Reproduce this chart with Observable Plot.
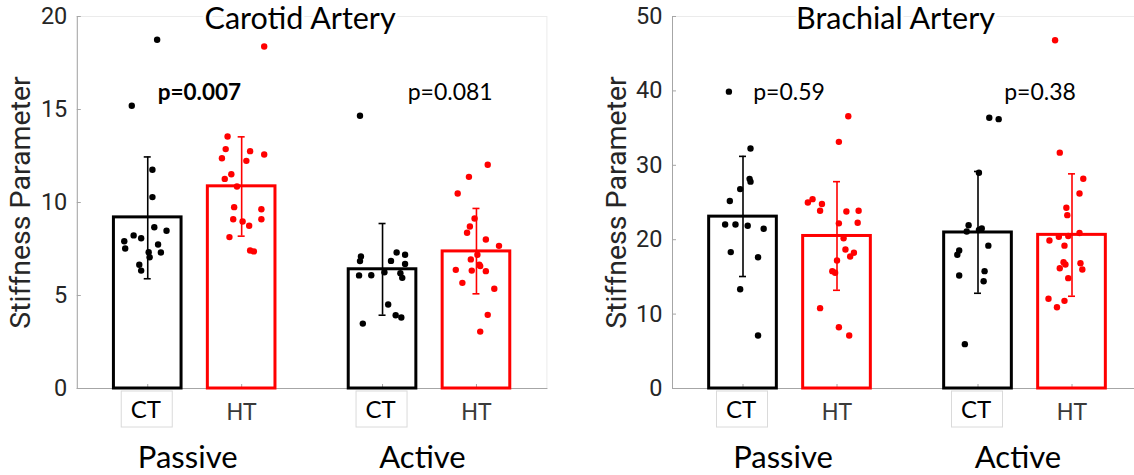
<!DOCTYPE html>
<html><head><meta charset="utf-8">
<script src="https://cdn.jsdelivr.net/npm/d3@7"></script>
<script src="https://cdn.jsdelivr.net/npm/@observablehq/plot@0.6"></script>
<style>
html,body{margin:0;padding:0;background:#fff;overflow:hidden;}
#wrap{position:relative;width:1134px;height:475px;overflow:hidden;background:#fff;}
#left{position:absolute;left:0;top:0;width:567px;height:475px;}
#right{position:absolute;left:567px;top:0;width:575px;height:475px;}
#wrap svg{max-width:none !important;}
</style></head><body><div id="wrap"><div id="left"></div><div id="right"></div></div>
<script>
// ---------- data ----------
const groups = ["Passive", "Active"];
const cohorts = ["CT", "HT"];
const panelTitles = ["Carotid Artery", "Brachial Artery"];
const yLabel = "Stiffness Parameter";
const carotidTicks = [0, 5, 10, 15, 20];
const brachialTicks = [0, 10, 20, 30, 40, 50];

// bar order: Passive CT, Passive HT, Active CT, Active HT
const carotidMean = [9.20, 10.87, 6.41, 7.37];
const carotidLow = [5.90, 8.19, 3.94, 5.09];
const carotidHigh = [12.45, 13.53, 8.87, 9.68];
const brachialMean = [23.1, 20.5, 20.97, 20.65];
const brachialLow = [15.05, 13.2, 12.8, 12.4];
const brachialHigh = [31.2, 27.8, 29.17, 28.85];

const carotidP = ["p=0.007", "p=0.081"];
const carotidPBold = [true, false];
const brachialP = ["p=0.59", "p=0.38"];
const brachialPBold = [false, false];

// subject points: [value, horizontal jitter]
const carotidPassiveCT = [[18.75,0.10],[15.2,-0.17],[11.76,0.05],[10.29,0.05],[8.67,0.07],[8.48,0.20],[8.23,-0.15],[8.08,-0.07],[7.92,-0.25],[7.53,-0.24],[7.74,0.11],[7.33,0.01],[7.06,0.02],[7.31,0.14],[6.65,-0.09],[6.34,-0.07]];
const carotidPassiveHT = [[18.39,0.24],[13.55,-0.15],[12.87,-0.17],[12.76,0.09],[12.58,0.24],[12.38,-0.21],[12.24,0.05],[11.52,-0.11],[11.27,-0.18],[10.86,-0.05],[9.75,-0.08],[9.64,0.21],[9.10,-0.09],[8.98,0.01],[9.10,0.21],[8.75,0.08],[8.14,-0.13],[7.42,0.09],[7.37,0.13]];
const carotidActiveCT = [[14.66,-0.24],[7.10,-0.23],[6.85,-0.24],[7.31,0.15],[7.19,0.24],[6.86,0.09],[6.70,0.24],[6.08,-0.25],[6.09,-0.12],[6.25,0.02],[6.20,0.19],[5.95,0.21],[4.52,0.06],[3.94,0.14],[3.82,0.20],[3.49,-0.21]];
const carotidActiveHT = [[12.03,0.12],[11.38,-0.08],[10.48,-0.20],[9.14,-0.02],[8.71,-0.07],[8.37,-0.10],[8.01,0.10],[7.67,0.24],[7.19,0.01],[6.94,-0.06],[6.65,0.03],[6.58,0.04],[6.38,-0.22],[6.34,-0.05],[6.31,0.10],[5.68,-0.15],[5.36,0.19],[3.96,0.12],[3.06,0.04]];
const brachialPassiveCT = [[39.9,-0.15],[32.26,0.08],[28.18,0.07],[27.8,0.08],[26.8,-0.03],[25.2,-0.14],[22.04,-0.19],[22.04,-0.08],[21.87,0.05],[21.47,0.22],[18.33,-0.13],[17.65,0.16],[13.35,-0.03],[7.12,0.16]];
const brachialPassiveHT = [[36.6,0.12],[33.15,0.02],[25.0,-0.31],[25.45,-0.26],[24.8,-0.16],[23.9,-0.18],[23.8,0.10],[23.9,0.23],[22.2,0.02],[22.27,0.22],[20.2,0.07],[18.68,0.09],[18.24,0.18],[17.74,0.14],[17.2,0.00],[15.77,-0.05],[15.55,-0.02],[10.8,-0.18],[8.24,0.02],[7.12,0.13]];
const brachialActiveCT = [[36.4,0.12],[36.2,0.22],[28.99,0.01],[21.95,-0.10],[21.5,0.04],[21.3,0.01],[21.1,-0.12],[19.2,0.11],[18.55,-0.20],[17.97,-0.22],[15.77,0.07],[15.19,-0.20],[14.42,0.06],[5.96,-0.14]];
const brachialActiveHT = [[46.8,-0.18],[31.7,-0.13],[28.2,0.12],[26.2,0.08],[24.3,-0.06],[23.3,-0.05],[20.9,0.08],[20.5,-0.04],[20.4,-0.14],[19.9,-0.24],[19.2,-0.08],[16.97,-0.09],[16.66,-0.07],[16.17,-0.13],[16.84,0.09],[16.0,0.11],[14.83,-0.04],[12.06,-0.25],[11.78,-0.08],[10.93,-0.16]];

// ---------- layout ----------
const barPos = [1, 2, 3.5, 4.5];
const groupPos = [1.5, 4.0];
const barHalf = 0.36;
const colorOf = {CT: "#000000", HT: "#ff0000"};
const calibriLike = "Lato";
const robotoLike = "Roboto";

function panel({title, ticks, yMax, mean, low, high, pts, pLabels, pBold, pX, pY, marginLeft, marginRight, width}) {
  const bars = mean.map((m, i) => ({
    pos: barPos[i], cohort: cohorts[i % 2], group: groups[Math.floor(i / 2)],
    mean: m, lo: low[i], hi: high[i], color: colorOf[cohorts[i % 2]]
  }));
  const points = [];
  pts.forEach((arr, i) => arr.forEach(([v, j]) => points.push({x: barPos[i] + j, value: v, color: colorOf[cohorts[i % 2]]})));
  const pTexts = pLabels.map((t, i) => ({text: t, x: pX[i], bold: pBold[i]}));
  const groupTexts = groups.map((g, i) => ({text: g, x: groupPos[i]}));
  const plotW = width - marginLeft - marginRight;
  const axisGray = "#a6a6a6";
  const pOpts = {x: "x", y: pY, text: "text", fontFamily: calibriLike, fill: "black", lineAnchor: "middle", textAnchor: "middle"};
  return Plot.plot({
    width, height: 475,
    marginLeft, marginRight, marginTop: 16, marginBottom: 87,
    x: {domain: [0.25, 5.25], axis: null},
    y: {domain: [0, yMax], axis: null},
    color: {type: "identity"},
    style: {fontFamily: robotoLike, fontSize: "23.5px", color: "#262626", background: "white", overflow: "visible", maxWidth: "none"},
    marks: [
      Plot.frame({stroke: "#ebebeb"}),
      Plot.frame({anchor: "left", stroke: axisGray}),
      Plot.frame({anchor: "bottom", stroke: axisGray}),
      Plot.tickY(ticks, {y: d => d, stroke: axisGray, insetRight: plotW - 4}),
      Plot.ruleX(bars, {x: "pos", y1: 0, y2: 0, insetTop: -4, stroke: axisGray}),
      Plot.axisY(ticks, {tickSize: 0, tickPadding: 10, fontSize: 23.5, fontFamily: robotoLike, fill: "#262626"}),
      Plot.rect(bars, {x1: d => d.pos - barHalf, x2: d => d.pos + barHalf, y1: 0, y2: "mean", stroke: "color", fill: "none", strokeWidth: 3}),
      Plot.ruleX(bars, {x: "pos", y1: "lo", y2: "hi", stroke: "color", strokeWidth: 1.6}),
      Plot.ruleY(bars, {y: "hi", x1: "pos", x2: "pos", insetLeft: -3.5, insetRight: -3.5, stroke: "color", strokeWidth: 1.6}),
      Plot.ruleY(bars, {y: "lo", x1: "pos", x2: "pos", insetLeft: -3.5, insetRight: -3.5, stroke: "color", strokeWidth: 1.6}),
      Plot.dot(points, {x: "x", y: "value", r: 3.2, fill: "color", stroke: null}),
      Plot.text(pTexts.filter(d => d.bold), {...pOpts, fontWeight: "bold", fontSize: 22.5}),
      Plot.text(pTexts.filter(d => !d.bold), {...pOpts, fontWeight: "normal", fontSize: 23}),
      Plot.text([title], {frameAnchor: "top", text: d => d, dx: -12, dy: 12, lineAnchor: "bottom", fontFamily: calibriLike, fontSize: 30.5, fill: "black", stroke: "white", strokeWidth: 6, paintOrder: "stroke"}),
      Plot.text([yLabel], {frameAnchor: "left", text: d => d, rotate: -90, dx: -47, lineAnchor: "bottom", textAnchor: "middle", fontFamily: robotoLike, fontSize: 28.5, fill: "#262626"}),
      Plot.rect(bars.filter(d => d.cohort === "CT"), {x1: "pos", x2: "pos", y1: 0, y2: 0, insetLeft: -26, insetRight: -25, insetTop: 3, insetBottom: -39, stroke: "#dadada", fill: "none", strokeWidth: 1}),
      Plot.text(bars.filter(d => d.cohort === "CT"), {x: "pos", y: 0, text: "cohort", dy: 29, dx: -2, lineAnchor: "bottom", fontFamily: calibriLike, fontSize: 24, fill: "black"}),
      Plot.text(bars.filter(d => d.cohort === "HT"), {x: "pos", y: 0, text: "cohort", dy: 31, lineAnchor: "bottom", fontFamily: robotoLike, fontSize: 23.5, fill: "#3a3a3a"}),
      Plot.text(groupTexts, {x: "x", y: 0, text: "text", dy: 79, dx: -7, lineAnchor: "bottom", fontFamily: calibriLike, fontSize: 31, fill: "black"})
    ]
  });
}

document.getElementById("left").append(panel({
  title: panelTitles[0], ticks: carotidTicks, yMax: 20,
  mean: carotidMean, low: carotidLow, high: carotidHigh,
  pts: [carotidPassiveCT, carotidPassiveHT, carotidActiveCT, carotidActiveHT],
  pLabels: carotidP, pBold: carotidPBold, pX: [1.55, 4.22], pY: 15.9,
  marginLeft: 76.8, marginRight: 20.6, width: 567
}));
document.getElementById("right").append(panel({
  title: panelTitles[1], ticks: brachialTicks, yMax: 50,
  mean: brachialMean, low: brachialLow, high: brachialHigh,
  pts: [brachialPassiveCT, brachialPassiveHT, brachialActiveCT, brachialActiveHT],
  pLabels: brachialP, pBold: brachialPBold, pX: [1.49, 4.16], pY: 39.8,
  marginLeft: 105, marginRight: 0, width: 575
}));
</script></body></html>
